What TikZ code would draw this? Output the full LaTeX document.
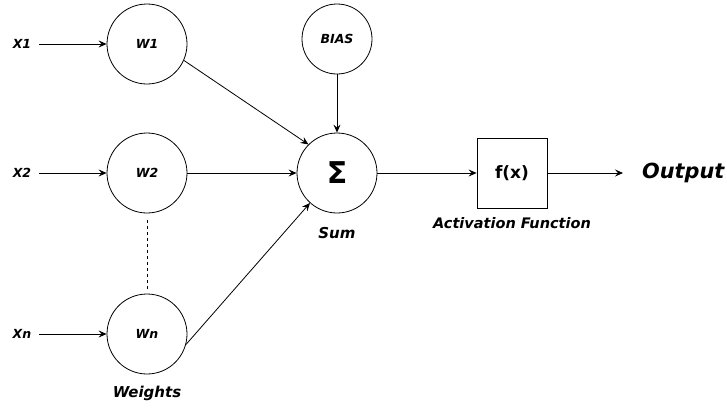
\documentclass[tikz,border=0pt]{standalone}
\usepackage{fontspec}
\setmainfont{DejaVu Sans}
\usetikzlibrary{arrows.meta}
\begin{document}
\begin{tikzpicture}[x=1pt,y=-1pt,
  lbl/.style={font=\fontsize{#1}{#1}\selectfont\bfseries\itshape, inner sep=0pt},
  neuron/.style={circle, draw, line width=0.8pt, minimum size=80pt, inner sep=0pt},
  arr/.style={line width=0.8pt, -{Stealth[length=8pt,width=7pt,inset=3pt]}},
  conn/.style={line width=0.8pt}]
\useasboundingbox (0,0) rectangle (727,407);
% inputs
\node[lbl=12.5] (x1) at (22,44) {X1};
\node[lbl=12.5] (x2) at (22,173) {X2};
\node[lbl=12.5] (xn) at (22,334) {Xn};
% weights
\node[neuron, lbl=12.5, minimum size=80pt] (w1) at (147,44) {W1};
\node[neuron, lbl=12.5, minimum size=80pt] (w2) at (147,173) {W2};
\node[neuron, lbl=12.5, minimum size=80pt] (wn) at (147,334) {Wn};
\node[lbl=15] (weights) at (147,393) {Weights};
% bias and sum
\node[neuron, lbl=12.5, minimum size=70pt] (bias) at (337,39) {BIAS};
\node[neuron, font=\fontsize{30}{30}\selectfont\bfseries] (sum) at (337,173) {Σ};
\node[lbl=15] (sumlbl) at (337,233) {Sum};
% activation
\node[draw, line width=0.8pt, minimum size=70pt, inner sep=0pt, font=\fontsize{17}{17}\selectfont\bfseries] (f) at (512,173) {f(x)};
\node[lbl=14.5] (act) at (512,223) {Activation Function};
\node[lbl=20.8, anchor=west] (out) at (642,173) {Output};
% connectors
\draw[arr] ([xshift=8pt]x1.east) -- (w1.west);
\draw[arr] ([xshift=8pt]x2.east) -- (w2.west);
\draw[arr] ([xshift=8pt]xn.east) -- (wn.west);
\draw[conn, dashed, shorten <=7pt, shorten >=4pt] (w2.south) -- (wn.north);
\draw[arr] (w1.-24) -- (sum.135);
\draw[arr] (w2.east) -- (sum.west);
\draw[arr] (wn.-15) -- (sum.228);
\draw[arr] (bias.south) -- (sum.north);
\draw[arr] (sum.east) -- (f.west);
\draw[arr, shorten >=19pt] (f.east) -- (out.west);
\end{tikzpicture}
\end{document}
